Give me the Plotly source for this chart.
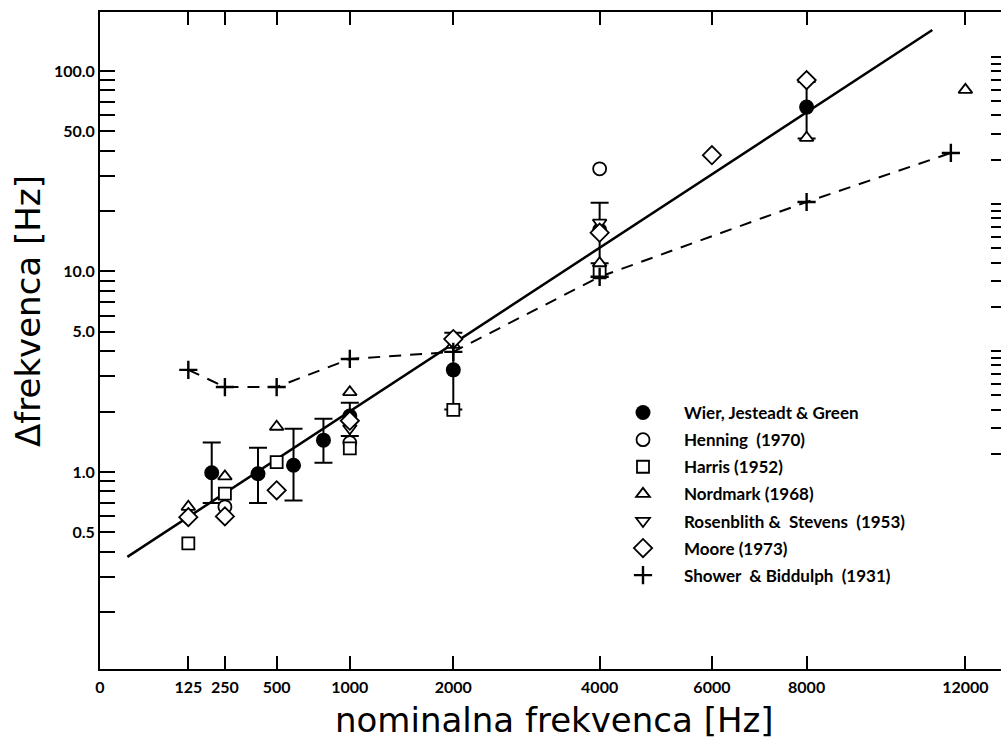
import math
import plotly.graph_objects as go

# ---------------- data ----------------
x_tick_freqs = [0, 125, 250, 500, 1000, 2000, 4000, 6000, 8000, 12000]
x_tick_text = ["0", "125", "250", "500", "1000", "2000", "4000", "6000", "8000", "12000"]

y_tick_vals = [0.2, 0.3, 0.4, 0.5, 0.6, 0.7, 0.8, 0.9, 1, 2, 3, 4, 5, 6, 7, 8, 9,
               10, 20, 30, 40, 50, 60, 70, 80, 90, 100]
y_tick_labels = {0.5: "0.5", 1: "1.0", 5: "5.0", 10: "10.0", 50: "50.0", 100: "100.0"}

# right-hand (unlabelled) scale ticks
r_tick_vals = [0.2, 0.3, 0.4, 0.5, 0.6, 0.7, 0.8, 0.9, 1, 2, 3, 4, 5, 6, 7, 8, 9,
               10, 20, 30, 40, 50, 60, 70, 80, 90, 100]

wier_f = [200, 400, 600, 800, 1000, 2000, 4000, 8000]
wier_dl = [0.99, 0.98, 1.08, 1.44, 1.90, 3.23, 16.1, 66.0]
wier_hi = [1.40, 1.32, 1.64, 1.84, 2.21, 4.94, 22.0, 88.0]
wier_lo = [0.70, 0.70, 0.72, 1.11, 1.51, 2.05, 11.0, 46.0]

henning_f = [250, 1000, 4000]
henning_dl = [0.67, 1.40, 32.5]

harris_f = [125, 250, 500, 1000, 2000, 4000]
harris_dl = [0.44, 0.78, 1.12, 1.31, 2.04, 9.9]

nordmark_f = [125, 250, 500, 1000, 2000, 4000, 8000, 12000]
nordmark_dl = [0.67, 0.95, 1.68, 2.5, 4.3, 11.0, 46.4, 80.5]

rosenblith_f = [1000, 2000, 4000]
rosenblith_dl = [1.65, 4.4, 17.5]

moore_f = [125, 250, 500, 1000, 2000, 4000, 6000, 8000]
moore_dl = [0.595, 0.60, 0.81, 1.80, 4.6, 15.6, 38.0, 90.0]

shower_f = [125, 250, 500, 1000, 2000, 4000, 8000, 11600]
shower_dl = [3.23, 2.65, 2.65, 3.66, 3.97, 9.4, 22.2, 39.0]

fit_f = [12, 11100]
fit_dl = [0.377, 160.0]

# ---------------- helpers ----------------
def sq(vals):
    return [math.sqrt(v) for v in vals]

BLACK = "black"
LEG_FONT = dict(family="Lato", size=17, color=BLACK, weight=700)
TICK_FONT = dict(family="Lato", size=16, color=BLACK, weight=700)

fig = go.Figure()

# fitted solid line
fig.add_trace(go.Scatter(x=sq(fit_f), y=fit_dl, mode="lines",
                         line=dict(color=BLACK, width=2.5), showlegend=False,
                         hoverinfo="skip"))
# Shower & Biddulph dashed curve
fig.add_trace(go.Scatter(x=sq(shower_f), y=shower_dl, mode="lines",
                         line=dict(color=BLACK, width=2, dash="12px,9px"),
                         showlegend=False, hoverinfo="skip"))

# Wier (filled circles with error bars)
fig.add_trace(go.Scatter(
    x=sq(wier_f), y=wier_dl, mode="markers", name="Wier, Jesteadt & Green",
    legendgroup="a",
    marker=dict(symbol="circle", size=15, color=BLACK, line=dict(color=BLACK, width=0)),
    error_y=dict(type="data", symmetric=False,
                 array=[h - v for h, v in zip(wier_hi, wier_dl)],
                 arrayminus=[v - l for l, v in zip(wier_lo, wier_dl)],
                 color=BLACK, thickness=2, width=9)))

open_marker = lambda sym, size: dict(symbol=sym, size=size, color="white",
                                     line=dict(color=BLACK, width=1.8))

fig.add_trace(go.Scatter(x=sq(henning_f), y=henning_dl, mode="markers",
                         name="Henning  (1970)", legendgroup="b",
                         marker=open_marker("circle", 13)))
fig.add_trace(go.Scatter(x=sq(harris_f), y=harris_dl, mode="markers",
                         name="Harris (1952)", legendgroup="c",
                         marker=open_marker("square", 12)))
fig.add_trace(go.Scatter(x=sq(nordmark_f), y=nordmark_dl, mode="markers",
                         name="Nordmark (1968)", legendgroup="d",
                         marker=open_marker("triangle-up", 12)))
fig.add_trace(go.Scatter(x=sq(rosenblith_f), y=rosenblith_dl, mode="markers",
                         name="Rosenblith &  Stevens  (1953)", legendgroup="e",
                         marker=open_marker("triangle-down", 12)))
fig.add_trace(go.Scatter(x=sq(moore_f), y=moore_dl, mode="markers",
                         name="Moore (1973)", legendgroup="f",
                         marker=open_marker("diamond", 14)))
fig.add_trace(go.Scatter(x=sq(shower_f), y=shower_dl, mode="markers",
                         name="Shower  & Biddulph  (1931)", legendgroup="g",
                         marker=dict(symbol="cross-thin", size=13,
                                     line=dict(color=BLACK, width=2.4))))

# invisible trace carrying the right-hand tick scale
fig.add_trace(go.Scatter(x=[None], y=[None], yaxis="y2", showlegend=False,
                         hoverinfo="skip"))

W, H = 1001, 740
ML, MR, MT, MB = 100, 0, 12, 71
pw, ph = W - ML - MR, H - MT - MB
xmax = pw / 7.9

fig.update_layout(
    width=W, height=H,
    margin=dict(l=ML, r=MR, t=MT, b=MB),
    paper_bgcolor="white", plot_bgcolor="white",
    showlegend=True,
    legend=dict(x=(602 - ML) / pw, xanchor="left",
                y=(H - MB - 395) / ph, yanchor="top",
                bgcolor="rgba(0,0,0,0)", borderwidth=0,
                font=LEG_FONT, itemwidth=72, tracegroupgap=2,
                traceorder="grouped"),
    xaxis=dict(range=[0, xmax], tickmode="array",
               tickvals=sq(x_tick_freqs), ticktext=x_tick_text,
               ticks="inside", ticklen=13, tickwidth=2, tickcolor=BLACK,
               showline=True, linewidth=2, linecolor=BLACK, mirror="ticks",
               showgrid=False, zeroline=False, tickfont=TICK_FONT,
               ticklabelstandoff=3),
    yaxis=dict(type="log", range=[-0.983, 2.294], tickmode="array",
               tickvals=y_tick_vals,
               ticktext=[y_tick_labels.get(v, "") for v in y_tick_vals],
               ticks="inside", ticklen=15, tickwidth=2, tickcolor=BLACK,
               showline=True, linewidth=2, linecolor=BLACK, mirror=False,
               showgrid=False, zeroline=False, tickfont=TICK_FONT),
    yaxis2=dict(type="log", range=[-2.163, 2.306], overlaying="y", side="right",
                tickmode="array", tickvals=r_tick_vals, showticklabels=False,
                ticks="inside", ticklen=10, tickwidth=2, tickcolor=BLACK,
                showline=False, showgrid=False, zeroline=False),
    annotations=[
        dict(text="nominalna frekvenca [Hz]", xref="paper", yref="paper",
             x=(554 - ML) / pw, y=-(720 - (H - MB)) / ph,
             xanchor="center", yanchor="middle", showarrow=False,
             font=dict(family="DejaVu Sans", size=34, color=BLACK)),
        dict(text="Δfrekvenca [Hz]", xref="paper", yref="paper",
             x=-(ML - 28) / pw, y=((H - MB) - 311) / ph, textangle=-90,
             xanchor="center", yanchor="middle", showarrow=False,
             font=dict(family="DejaVu Sans", size=34, color=BLACK)),
    ],
)

fig.write_html("out.html")
